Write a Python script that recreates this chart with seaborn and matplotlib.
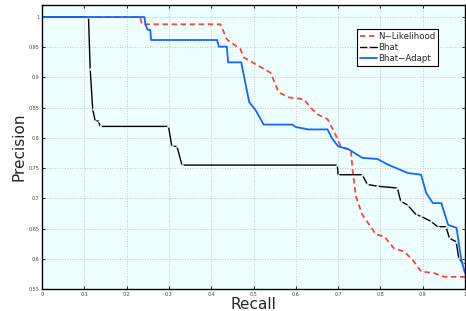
import numpy as np
import pandas as pd
import seaborn as sns
import matplotlib.pyplot as plt

# curves (recall, precision)
nlik_recall = [0.0, 0.232, 0.236, 0.422, 0.437, 0.453, 0.469, 0.477, 0.505, 0.540, 0.560,
               0.584, 0.619, 0.635, 0.651, 0.675, 0.690, 0.706, 0.725, 0.730, 0.734, 0.742,
               0.757, 0.777, 0.789, 0.809, 0.832, 0.856, 0.876, 0.896, 0.927, 0.951, 1.0]
nlik_prec = [1.0, 1.0, 0.988, 0.988, 0.963, 0.955, 0.947, 0.933, 0.922, 0.908, 0.875,
             0.867, 0.864, 0.850, 0.839, 0.831, 0.811, 0.786, 0.781, 0.781, 0.748, 0.703,
             0.673, 0.653, 0.640, 0.637, 0.617, 0.612, 0.598, 0.579, 0.576, 0.570, 0.570]

bhat_recall = [0.0, 0.110, 0.114, 0.120, 0.126, 0.134, 0.137, 0.299, 0.307, 0.319, 0.331,
               0.698, 0.700, 0.757, 0.769, 0.793, 0.840, 0.848, 0.864, 0.884, 0.896, 0.919,
               0.935, 0.955, 0.963, 0.979, 0.985, 0.995, 1.0]
bhat_prec = [1.0, 1.0, 0.914, 0.847, 0.828, 0.828, 0.819, 0.819, 0.786, 0.786, 0.755,
             0.755, 0.739, 0.739, 0.723, 0.720, 0.717, 0.695, 0.689, 0.673, 0.670, 0.662,
             0.653, 0.653, 0.634, 0.628, 0.601, 0.592, 0.592]

adapt_recall = [0.0, 0.242, 0.245, 0.250, 0.256, 0.258, 0.414, 0.418, 0.437, 0.440, 0.471,
                0.481, 0.490, 0.505, 0.524, 0.592, 0.600, 0.630, 0.675, 0.685, 0.700, 0.725,
                0.757, 0.793, 0.817, 0.864, 0.896, 0.908, 0.924, 0.944, 0.960, 0.980, 0.991, 1.0]
adapt_prec = [1.0, 1.0, 0.987, 0.979, 0.979, 0.962, 0.962, 0.951, 0.951, 0.925, 0.925,
              0.890, 0.859, 0.846, 0.822, 0.822, 0.818, 0.814, 0.814, 0.800, 0.786, 0.781,
              0.767, 0.765, 0.756, 0.742, 0.739, 0.709, 0.692, 0.692, 0.656, 0.651, 0.598, 0.576]

xticks = [0, 0.1, 0.2, 0.3, 0.4, 0.5, 0.6, 0.7, 0.8, 0.9, 1]
yticks = [0.55, 0.6, 0.65, 0.7, 0.75, 0.8, 0.85, 0.9, 0.95, 1]

sns.set_style("ticks")
plt.rcParams['font.family'] = ['DejaVu Sans']

fig = plt.figure(figsize=(4.66, 3.11), dpi=100)
ax = fig.add_axes([0.090, 0.071, 0.908, 0.913])
ax.set_facecolor('#EEFFFF')

sns.lineplot(x=nlik_recall, y=nlik_prec, sort=False, estimator=None, ax=ax,
             color='#FF4433', linestyle=(0, (3, 2)), linewidth=1.3, label='N\u2212Likelihood')
sns.lineplot(x=bhat_recall, y=bhat_prec, sort=False, estimator=None, ax=ax,
             color='black', linewidth=1.0, marker='.', markersize=2, label='Bhat')
sns.lineplot(x=adapt_recall, y=adapt_prec, sort=False, estimator=None, ax=ax,
             color='#1466FF', linewidth=1.3, label='Bhat\u2212Adapt')

ax.set_xlim(0, 1)
ax.set_ylim(0.55, 1.02)
ax.set_xticks(xticks)
ax.set_xticklabels([f"{t:g}" for t in xticks])
ax.set_yticks(yticks)
ax.set_yticklabels([f"{t:g}" for t in yticks])
ax.tick_params(direction='in', length=2.5, width=0.6, labelsize=3.5, pad=2,
               top=True, right=True, colors='black', labelcolor='#444444')
ax.grid(True, linestyle=(0, (1, 2)), color='#B5B5B5', linewidth=0.6)
for s in ax.spines.values():
    s.set_linewidth(1.0)
    s.set_color('black')

ax.set_xlabel('Recall', fontsize=11, labelpad=0)
ax.set_ylabel('Precision', fontsize=11, labelpad=1)

leg = ax.legend(loc='upper right', bbox_to_anchor=(0.937, 0.915), fontsize=6.2,
                frameon=True, fancybox=False, handlelength=2.0, handletextpad=0.15,
                borderpad=0.35, labelspacing=0.25, borderaxespad=0)
leg.get_frame().set_edgecolor('black')
leg.get_frame().set_linewidth(0.8)
leg.get_frame().set_facecolor('white')
leg.get_frame().set_alpha(1)

fig.savefig('out.png', dpi=100)
